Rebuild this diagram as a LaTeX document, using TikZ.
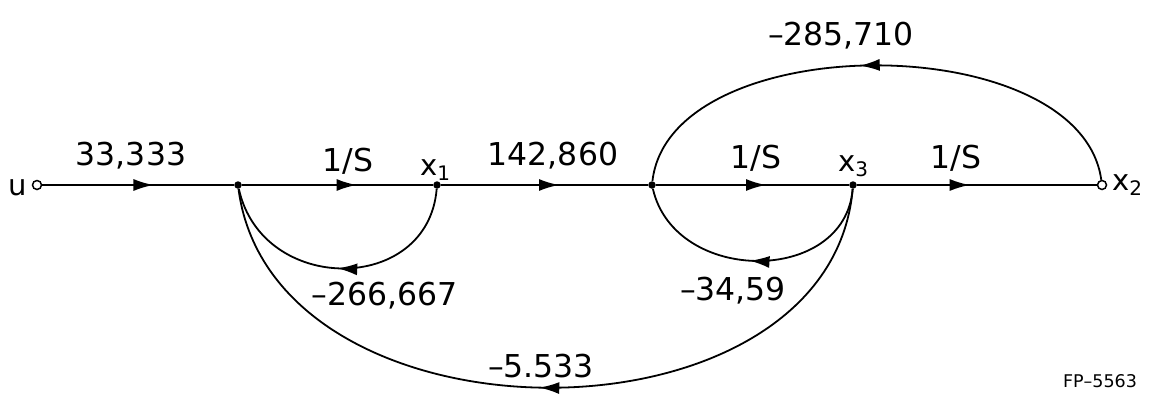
\documentclass[tikz,border=0pt]{standalone}
\usepackage{fontspec}
\setmainfont{DejaVu Sans}
\usetikzlibrary{arrows.meta,decorations.markings}
\tikzset{
  sig/.style={line width=1.8pt},
  arr/.style={postaction={decorate},decoration={markings,mark=at position #1 with {\arrow{Latex[length=20pt,width=12pt]}}}},
  dotnode/.style={circle,fill,inner sep=0pt,minimum size=7.5pt},
  opennode/.style={circle,draw,line width=1.5pt,fill=white,inner sep=0pt,minimum size=9pt},
  lbl/.style={font=\fontsize{31.5}{32}\selectfont,inner sep=0pt,anchor=base},
  varlbl/.style={font=\fontsize{29}{30}\selectfont,inner sep=0pt,anchor=base west},
  small/.style={font=\fontsize{17.5}{18}\selectfont,inner sep=0pt,anchor=base}
}
\newcommand{\sub}[1]{\raisebox{-5pt}{\fontsize{20}{20}\selectfont #1}}
\begin{document}
\begin{tikzpicture}[x=1pt,y=-1pt]
\useasboundingbox (0,0) rectangle (1149,399);
% nodes
\node[opennode] (u) at (37,185) {};
\node[dotnode] (A) at (238,185) {};
\node[dotnode] (x1) at (437,185) {};
\node[dotnode] (B) at (652,185) {};
\node[dotnode] (x3) at (853,185) {};
% connectors
\draw[sig,arr=0.58] (u) -- (A);
\draw[sig,arr=0.6] (A) -- (x1);
\draw[sig,arr=0.57] (x1) -- (B);
\draw[sig,arr=0.57] (B) -- (x3);
\node[opennode] (x2) at (1102,185) {};
\draw[sig,arr=0.47] (x3) -- (x2);
\draw[sig,arr=0.51] (x1) .. controls (428,295) and (262,295) .. (A);
\draw[sig,arr=0.52] (x3) .. controls (845,285) and (675,285) .. (B);
\draw[sig,arr=0.51] (x3) .. controls (830,454) and (273,454) .. (A);
\draw[sig,arr=0.53] (x2) .. controls (1080,27) and (670,27) .. (B);
% labels
\node[lbl] (lu) at (18,195) {\fontsize{29}{30}\selectfont u};
\node[lbl] (l1) at (131,165) {33,333};
\node[lbl] (l2) at (348,171) {1/S};
\node[varlbl] (lx1) at (420,175) {x\sub{1}};
\node[lbl] (l3) at (553,165) {142,860};
\node[lbl] (l4) at (756,168) {1/S};
\node[varlbl] (lx3) at (838,171) {x\sub{3}};
\node[lbl] (l5) at (956,168) {1/S};
\node[varlbl] (lx2) at (1112,190) {x\sub{2}};
\node[lbl] (l6) at (841,45) {–285,710};
\node[lbl] (l7) at (385,305) {–266,667};
\node[lbl] (l8) at (733,300) {–34,59};
\node[lbl] (l9) at (541,377) {–5.533};
\node[small] (fp) at (1100,387) {FP–5563};
\end{tikzpicture}
\end{document}
